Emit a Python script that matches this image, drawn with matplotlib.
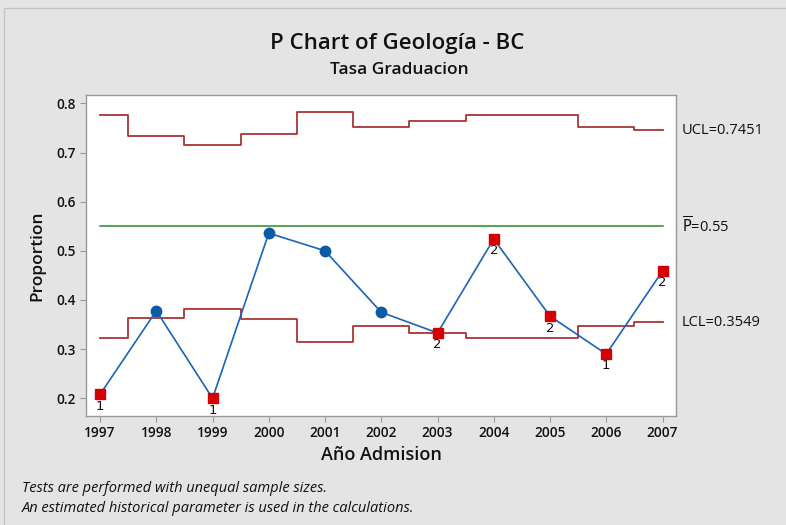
import matplotlib
matplotlib.use("Agg")
import matplotlib.pyplot as plt
from matplotlib.patches import Rectangle

plt.rcParams['font.family'] = ['Open Sans', 'Noto Sans', 'DejaVu Sans']

# Subgroup data: admission year and graduation proportion
years = [1997, 1998, 1999, 2000, 2001, 2002, 2003, 2004, 2005, 2006, 2007]
proportion = [0.208, 0.378, 0.200, 0.536, 0.500, 0.375, 0.333, 0.524, 0.367, 0.290, 0.459]
# Control limits (vary because of unequal sample sizes)
ucl = [0.777, 0.734, 0.716, 0.738, 0.783, 0.752, 0.765, 0.777, 0.777, 0.752, 0.7451]
lcl = [0.322, 0.364, 0.381, 0.361, 0.315, 0.347, 0.333, 0.322, 0.322, 0.347, 0.3549]
p_bar = 0.55
# Failed test numbers per subgroup (None = no failure)
failed_tests = [1, None, 1, None, None, None, 2, 2, 2, 1, 2]

yticks = [0.2, 0.3, 0.4, 0.5, 0.6, 0.7, 0.8]

BG = '#e4e4e4'
LIMIT_RED = '#a93434'
CENTER_GREEN = '#2a8a2a'
LINE_BLUE = '#1a63b8'
DOT_BLUE = '#0d5aa7'
FAIL_RED = '#d60000'

fig = plt.figure(figsize=(7.86, 5.25), dpi=100)
fig.patch.set_facecolor(BG)

# Window frame on the top/left edge
fig.patches.append(Rectangle((4 / 786, -0.1), 1.2, 1 - 8 / 525 + 0.1,
                             transform=fig.transFigure, fill=False,
                             edgecolor='#c4c4c4', linewidth=1.0))

ax = fig.add_axes([86 / 786, 1 - 416 / 525, 590 / 786, 321 / 525])
ax.set_facecolor('white')

ax.step(years, ucl, where='mid', color=LIMIT_RED, linewidth=1.3, zorder=2)
ax.step(years, lcl, where='mid', color=LIMIT_RED, linewidth=1.3, zorder=2)
ax.plot([years[0], years[-1]], [p_bar, p_bar], color=CENTER_GREEN, linewidth=1.1, zorder=2)

ax.plot(years, proportion, color=LINE_BLUE, linewidth=1.2, zorder=3)
for x, p, t in zip(years, proportion, failed_tests):
    if t is None:
        ax.plot(x, p, 'o', color=DOT_BLUE, markersize=7.5, zorder=4)
    else:
        ax.plot(x, p, 's', color=FAIL_RED, markersize=7.0, zorder=4)
        ax.annotate(str(t), (x, p), xytext=(0, -8.5), textcoords='offset points',
                    ha='center', va='center', fontsize=9.5, color='#111111', zorder=5,
                    family=['DejaVu Sans'])

ax.set_xlim(1996.75, 2007.24)
ax.set_ylim(0.164, 0.817)
ax.set_xticks(years)
ax.set_xticklabels([str(y) for y in years])
ax.set_yticks(yticks)
ax.set_yticklabels([f'{v:.1f}' for v in yticks])

for s in ax.spines.values():
    s.set_color('#9a9a9a')
    s.set_linewidth(1.0)
ax.tick_params(axis='both', colors='#9a9a9a', length=4, width=0.8, labelcolor='#111111',
               labelsize=9.8)
for lab in ax.get_xticklabels() + ax.get_yticklabels():
    lab.set_fontweight('semibold')

ax.set_xlabel('Año Admision', fontsize=13, fontweight='semibold', color='#111111', labelpad=4)
ax.set_ylabel('Proportion', fontsize=12.5, fontweight='semibold', color='#111111', labelpad=8)

# Limit labels to the right of the plot area
tr = ax.get_yaxis_transform()
ax.text(1.01, ucl[-1], f'UCL={ucl[-1]}', transform=tr, fontsize=10.5, va='center', color='#111111')
ax.text(1.01, p_bar, r'$\overline{\mathrm{P}}$' + f'={p_bar}', transform=tr, fontsize=10.5,
        va='center', color='#111111')
ax.text(1.01, lcl[-1], f'LCL={lcl[-1]}', transform=tr, fontsize=10.5, va='center', color='#111111')

fig.text(397 / 786, 1 - 43 / 525, 'P Chart of Geología - BC', ha='center', va='center',
         fontsize=16, fontweight='semibold', color='#111111')
fig.text(399 / 786, 1 - 70 / 525, 'Tasa Graduacion', ha='center', va='center',
         fontsize=12.5, fontweight='semibold', color='#111111')

fig.text(22 / 786, 1 - 489 / 525, 'Tests are performed with unequal sample sizes.',
         ha='left', va='center', fontsize=10.5, style='italic', color='#111111')
fig.text(22 / 786, 1 - 509 / 525, 'An estimated historical parameter is used in the calculations.',
         ha='left', va='center', fontsize=10.5, style='italic', color='#111111')

fig.savefig('out.png', dpi=100, facecolor=BG)
